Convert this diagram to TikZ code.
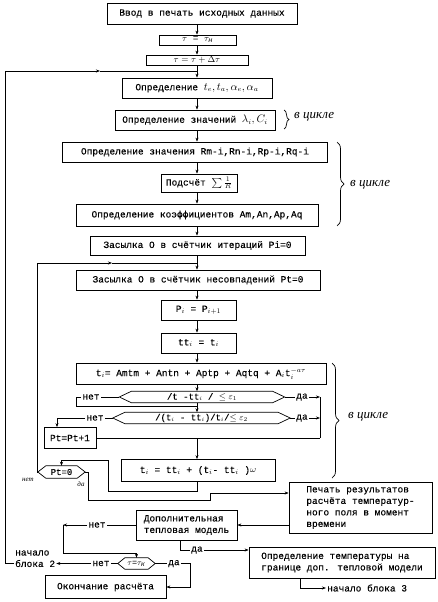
\documentclass[tikz,border=0pt]{standalone}
\usepackage{fontspec}
\setmainfont{Liberation Mono}[BoldFont=Liberation Mono, BoldFeatures={FakeBold=0.15}]
\newfontfamily\hand{Liberation Serif}
\usetikzlibrary{arrows.meta,decorations.pathreplacing,calc}
\newcommand\cyrsub[1]{\mbox{\fontsize{7}{7}\selectfont\itshape #1}}
\newcommand\hexdraw[2]{\draw[line width=0.7pt] (#1.west) -- ([xshift=#2]#1.north west) -- ([xshift=-#2]#1.north east) -- (#1.east) -- ([xshift=-#2]#1.south east) -- ([xshift=#2]#1.south west) -- cycle;}
\begin{document}
\begin{tikzpicture}[x=1pt,y=-1pt,
  box/.style={draw, line width=0.75pt, inner sep=0pt, align=center, font=\bfseries\fontsize{9.5}{11}\selectfont},
  lbox/.style={box, align=left, font=\bfseries\fontsize{9.5}{11.5}\selectfont},
  hx/.style={inner sep=0pt, font=\bfseries\fontsize{9}{10}\selectfont},
  lbl/.style={inner sep=1pt, font=\bfseries\fontsize{9.5}{11}\selectfont},
  hw/.style={font=\hand\itshape\fontsize{13}{14}\selectfont, inner sep=0pt},
  hws/.style={font=\hand\itshape\fontsize{7}{8}\selectfont, inner sep=0pt},
  ln/.style={line width=0.6pt},
  arr/.style={ln,-{Stealth[length=4pt,width=3pt]}},
  brc/.style={line width=0.7pt, decorate, decoration={brace, amplitude=5pt}}]
\useasboundingbox (0,0) rectangle (438,602);
\coordinate (mx) at (197,0);
% boxes
\node[box, minimum width=190pt, minimum height=21pt] (b1) at (202,13.5) {Ввод в печать исходных данных};
\node[box, minimum width=77pt, minimum height=10pt, font=\fontsize{9.5}{9}\selectfont] (b2) at (197.5,40) {$\tau$ = $\tau_{\cyrsub{н}}$};
\node[box, minimum width=102pt, minimum height=10pt, font=\fontsize{9}{9}\selectfont] (b3) at (197,60) {$\tau = \tau + \Delta\tau$};
\node[box, minimum width=150pt, minimum height=20pt] (b4) at (197,88) {Определение {\fontsize{10.5}{11}\selectfont$t_e, t_a, \alpha_e, \alpha_a$}};
\node[box, minimum width=160pt, minimum height=20pt] (b5) at (195,120) {Определение значений {\fontsize{10.5}{11}\selectfont$\lambda_i, C_i$}};
\node[box, minimum width=265pt, minimum height=20pt] (b6) at (195,152) {Определение значения Rm-i,Rn-i,Rp-i,Rq-i};
\node[box, minimum width=76pt, minimum height=18pt] (b7) at (199,183) {Подсчёт $\sum\frac{1}{R}$};
\node[box, minimum width=242pt, minimum height=22pt] (b8) at (197,215) {Определение коэффициентов Am,An,Ap,Aq};
\node[box, minimum width=215pt, minimum height=19pt] (b9) at (197.5,245.5) {Засылка О в счётчик итераций Pi=0};
\node[box, minimum width=244pt, minimum height=20pt] (b10) at (198,280) {Засылка О в счётчик несовпадений Pt=0};
\node[box, minimum width=75pt, minimum height=20pt] (b11) at (198.5,310) {P$_i$ = P$_{i+1}$};
\node[box, minimum width=75pt, minimum height=20pt] (b12) at (198.5,343) {tt$_i$ = t$_i$};
\node[box, minimum width=250pt, minimum height=21pt] (b13) at (201,373.5) {t$_i$= Amtm + Antn + Aptp + Aqtq + A$_i$t$_i^{-a\tau}$};
\node[hx, minimum width=165pt, minimum height=11pt] (d1) at (202,397) {/t -tt$_i$ / $\leq\varepsilon_1$};
\hexdraw{d1}{12pt}
\node[hx, minimum width=177pt, minimum height=11pt] (d2) at (201.5,418) {/(t$_i$ - tt$_i$)/t$_i$/$\leq\varepsilon_2$};
\hexdraw{d2}{12pt}
\node[box, minimum width=52pt, minimum height=21pt] (pt) at (70,438) {Pt=Pt+1};
\node[box, minimum width=154pt, minimum height=22pt] (b17) at (198,470.5) {t$_i$ = tt$_i$ + (t$_i$- tt$_i$ )$\omega$};
\node[hx, minimum width=47pt, minimum height=12pt] (pt0) at (61.5,472) {Pt=0};
\hexdraw{pt0}{8pt}
\node[lbox, minimum width=143pt, minimum height=51pt] (pech) at (360.5,507.5) {Печать результатов\\расчёта температур-\\ного поля в момент\\времени};
\node[lbox, minimum width=101pt, minimum height=30pt] (dop) at (186.5,525) {Дополнительная\\тепловая модель};
\node[lbox, minimum width=186pt, minimum height=31pt] (opr) at (342,562.5) {Определение температуры на\\границе доп. тепловой модели};
\node[hx, minimum width=37pt, minimum height=11pt, font=\fontsize{8.5}{9}\selectfont] (tk) at (136.5,563.5) {$\tau$=$\tau_{\cyrsub{к}}$};
\hexdraw{tk}{7pt}
\node[box, minimum width=121pt, minimum height=23pt] (oko) at (105.5,587) {Окончание расчёта};
% free texts
\node[lbl, anchor=west] (nb2a) at (14,553) {начало};
\node[lbl, anchor=west] (nb2) at (14,563.5) {блока 2};
\node[lbl, anchor=west] (nb3) at (326,588) {начало блока 3};
% braces
\draw[brc] (284,110) -- (284,129);
\node[hw, anchor=west] (c1t) at (294,117) {в цикле};
\draw[brc, decoration={brace, amplitude=7pt}] (337,142) -- (337,226);
\node[hw, anchor=west] (c2t) at (350,185) {в цикле};
\draw[brc, decoration={brace, amplitude=7pt}] (332,363) -- (332,478);
\node[hw, anchor=west] (c3t) at (348,417) {в цикле};
% labels
\node[lbl] (n1) at (91,397) {нет};
\node[lbl] (y1) at (302,397) {да};
\node[lbl] (n2) at (95,418) {нет};
\node[lbl] (y2) at (302,418) {да};
\node[lbl] (n3) at (97,525) {нет};
\node[lbl] (y3) at (197,550) {да};
\node[lbl] (n4) at (101,563.5) {нет};
\node[lbl] (y4) at (174,563.5) {да};
\node[hws] (pn) at (28,480) {нет};
\node[hws] (py) at (81,484) {да};
% main flow
\draw[arr] (b1.south -| mx) -- (b2.north -| mx);
\draw[arr] (b2.south -| mx) -- (b3.north -| mx);
\draw[arr] (b3.south -| mx) -- (b4.north -| mx);
\draw[arr] (b4.south -| mx) -- (b5.north -| mx);
\draw[arr] (b5.south -| mx) -- (b6.north -| mx);
\draw[arr] (b6.south -| mx) -- (b7.north -| mx);
\draw[arr] (b7.south -| mx) -- (b8.north -| mx);
\draw[arr] (b8.south -| mx) -- (b9.north -| mx);
\draw[arr] (b9.south -| mx) -- (b10.north -| mx);
\draw[arr] (b10.south -| mx) -- (b11.north -| mx);
\draw[arr] (b11.south -| mx) -- (b12.north -| mx);
\draw[arr] (b12.south -| mx) -- (b13.north -| mx);
\draw[arr] (b13.south -| mx) -- (d1.north -| mx);
\draw[arr] (d1.south -| mx) -- (d2.north -| mx);
% d1 branches
\coordinate (k1) at (76,406);
\draw[ln] (d1.west) -- (n1.east);
\draw[ln] (n1.west) -| (k1) -- (k1 -| mx);
\coordinate (r1) at (320,397);
\coordinate (r3) at (320,438);
\draw[ln] (d1.east) -- (y1.west);
\draw[arr] (y1.east) -- (r1);
\draw[ln] (r1) -- (r3);
\draw[ln] (d2.east) -- (y2.west);
\draw[arr] (y2.east) -- (y2.east -| r1);
% d2 no
\coordinate (k2) at (57,418);
\draw[ln] (d2.west) -- (n2.east);
\draw[arr] (n2.west) -- (k2) -- (k2 |- pt.north);
\draw[ln] (pt.east) -- (r3);
\draw[arr] (r3 -| mx) -- (b17.north -| mx);
% b17 to Pt=0
\coordinate (k3) at (108,491);
\coordinate (k4) at (108,460);
\draw[arr] (b17.south -| mx) -- (mx |- k3) -- (k3) -- (k4) -- (k4 -| pt0.north) -- (pt0.north);
% Pt=0 no
\coordinate (k5) at (37,263);
\coordinate (k6) at (112,263);
\draw[arr] (pt0.west) -- (pt0.west -| k5) -- (k5) -- (k6);
\draw[ln] (k6) -- (k6 -| mx);
% Pt=0 yes
\coordinate (k7) at (88,500);
\coordinate (k8) at (210,493);
\draw[arr] (pt0.east) -- (pt0.east -| k7) -- (k7) -- (k7 -| k8) -- (k8) -- (k8 -| pech.west);
% pech -> dop
\draw[arr] (pech.west |- dop.east) -- (dop.east);
% dop no
\coordinate (k9) at (63,525);
\coordinate (k10) at (63,553);
\draw[ln] (dop.west) -- (n3.east);
\draw[arr] (n3.west) -- (k9);
\draw[arr] (k9) -- (k10) -- (k10 -| tk.north) -- (tk.north);
% dop yes
\coordinate (k11) at (180,550);
\draw[ln] (dop.south -| k11) -- (k11) -- (y3.west);
\draw[arr] (y3.east) -- (opr.west |- k11);
% opr -> block 3
\coordinate (k12) at (300,588);
\draw[arr] (opr.south -| k12) -- (k12) -- (nb3.west);
% tk no
\draw[ln] (tk.west) -- (n4.east);
\draw[arr] (n4.west) -- (nb2.east);
\coordinate (k13) at (5,71);
\coordinate (k14) at (100,71);
\draw[arr] (nb2.west) -| (k13) -- (k14);
\draw[ln] (k14) -- (k14 -| mx);
% tk yes
\coordinate (k15) at (190,587);
\draw[ln] (tk.east) -- (y4.west);
\draw[arr] (y4.east) -| (k15) -- (oko.east);
\end{tikzpicture}
\end{document}
